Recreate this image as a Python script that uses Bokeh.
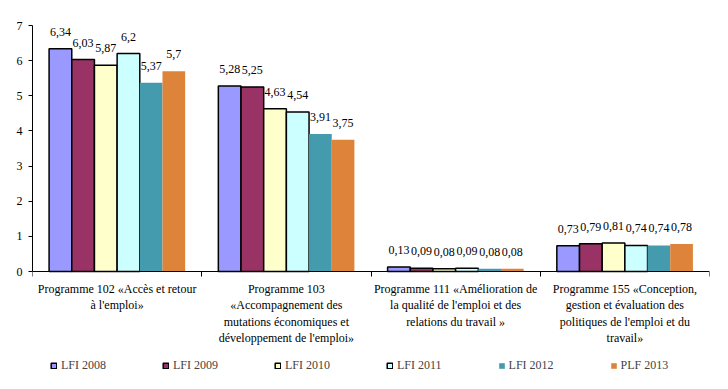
from bokeh.plotting import figure
from bokeh.models import Range1d, FixedTicker, Legend, LegendItem, ColumnDataSource
from bokeh.core.properties import value
from bokeh.embed import file_html
from bokeh.resources import INLINE

programmes = [
    "Programme 102 «Accès et retour\nà l'emploi»",
    "Programme 103\n«Accompagnement des\nmutations économiques et\ndéveloppement de l'emploi»",
    "Programme 111 «Amélioration de\nla qualité de l'emploi et des\nrelations du travail »",
    "Programme 155 «Conception,\ngestion et évaluation des\npolitiques de l'emploi et du\ntravail»",
]
series = ["LFI 2008", "LFI 2009", "LFI 2010", "LFI 2011", "LFI 2012", "PLF 2013"]
lfi_2008 = [6.34, 5.28, 0.13, 0.73]
lfi_2009 = [6.03, 5.25, 0.09, 0.79]
lfi_2010 = [5.87, 4.63, 0.08, 0.81]
lfi_2011 = [6.2, 4.54, 0.09, 0.74]
lfi_2012 = [5.37, 3.91, 0.08, 0.74]
plf_2013 = [5.7, 3.75, 0.08, 0.78]
all_values = [lfi_2008, lfi_2009, lfi_2010, lfi_2011, lfi_2012, plf_2013]
y_ticks = [0, 1, 2, 3, 4, 5, 6, 7]

colors = ["#9999FF", "#993366", "#FFFFCC", "#CCFFFF", "#439BAD", "#DD843A"]
outlines = ["black", "black", "black", "black", None, None]

FONT = "Liberation Serif"

# plot area: value axis spans 246 px for 0..7, label/legend zone 108 px below zero
Y_MAX = 7
y_lo = -Y_MAX * 108 / 246

p = figure(frame_width=677, frame_height=354, output_backend="svg", toolbar_location=None,
           x_range=Range1d(0, 4), y_range=Range1d(y_lo, Y_MAX),
           min_border_left=32, min_border_right=19, min_border_top=25, min_border_bottom=10)
p.outline_line_color = None
p.xgrid.visible = False
p.ygrid.visible = False
p.background_fill_color = "white"

bar_w = 0.134
items = []
for j, (name, vals) in enumerate(zip(series, all_values)):
    xs = [i + 0.5 + (j - 2.5) * bar_w for i in range(len(vals))]
    src = ColumnDataSource(dict(x=xs, top=vals,
                                lab=[str(v).replace(".", ",") for v in vals]))
    r = p.vbar(x="x", top="top", bottom=0, width=bar_w, source=src,
               fill_color=colors[j], line_color=outlines[j], line_width=1.5)
    p.text(x="x", y="top", text="lab", source=src, text_align="center",
           text_baseline="middle", y_offset=-17, text_font_size="12px",
           text_font=value(FONT), text_color="black")
    items.append(LegendItem(label=name, renderers=[r]))

# category labels under the axis
cat_src = ColumnDataSource(dict(x=[i + 0.5 for i in range(len(programmes))],
                                y=[0] * len(programmes), t=programmes))
p.text(x="x", y="y", text="t", source=cat_src, text_align="center",
       text_baseline="top", y_offset=10, text_font_size="12px",
       text_line_height=1.18, text_font=value(FONT), text_color="black")

# y axis
ya = p.yaxis[0]
ya.ticker = FixedTicker(ticks=y_ticks)
ya.bounds = (0, Y_MAX)
ya.minor_tick_line_color = None
ya.major_tick_in = 0
ya.major_tick_out = 4
ya.axis_line_color = "black"
ya.major_tick_line_color = "black"
ya.major_label_text_font = FONT
ya.major_label_text_font_size = "12px"
ya.major_label_text_color = "black"
ya.major_label_standoff = 6

# x axis at zero
xa = p.xaxis[0]
xa.fixed_location = 0
xa.ticker = FixedTicker(ticks=[], minor_ticks=[0, 1, 2, 3, 4])
xa.major_tick_line_color = None
xa.major_tick_out = 0
xa.major_tick_in = 0
xa.minor_tick_line_color = "black"
xa.minor_tick_in = 0
xa.minor_tick_out = 5
xa.axis_line_color = "black"
xa.major_label_text_font_size = "0px"
xa.major_label_standoff = 0

legend = Legend(items=items, orientation="horizontal", location=(18, 6),
                glyph_width=7, glyph_height=7, label_standoff=4, spacing=56,
                label_text_font=FONT, label_text_font_size="12px",
                border_line_color=None, background_fill_alpha=0, margin=0, padding=2)
p.add_layout(legend, "center")

open("out.html", "w").write(file_html(p, INLINE))
